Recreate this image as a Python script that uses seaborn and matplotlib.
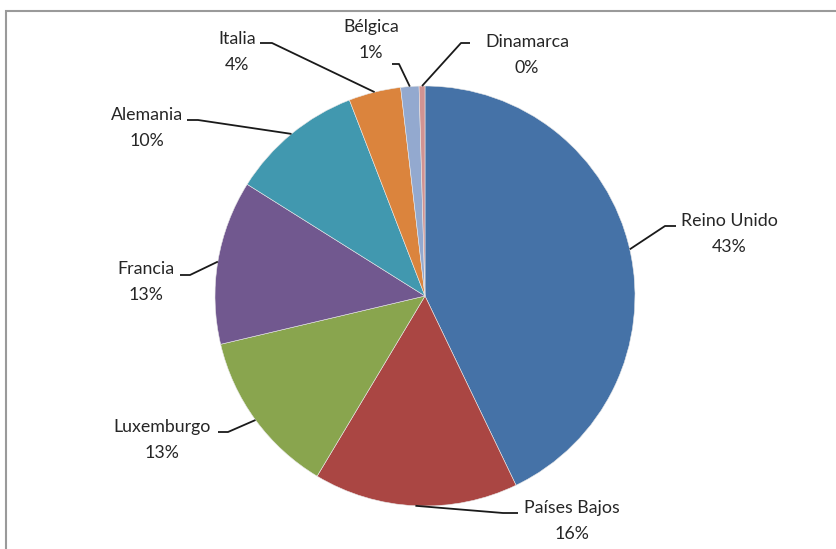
import numpy as np
import matplotlib
matplotlib.use("Agg")
import matplotlib.pyplot as plt
import seaborn as sns
from matplotlib.patches import Rectangle

# data (shares of total, %)
paises = ["Reino Unido", "Países Bajos", "Luxemburgo", "Francia",
          "Alemania", "Italia", "Bélgica", "Dinamarca"]
valores = [42.8, 15.7, 12.7, 12.6, 10.2, 4.0, 1.4, 0.45]
colores = ["#4572A7", "#AA4643", "#89A54E", "#71588F",
           "#4198AF", "#DB843D", "#93A9CF", "#D19392"]

# label layout in pixels (x, y from top): text centre, elbow, line end
txt_pos = [(729, 234), (572, 521), (162, 440), (146, 282),
           (147, 128), (237, 52), (371, 40), (527, 55)]
elbow = [(665, 226), (503, 513), (228, 432), (190, 275),
         (198, 120), (272, 43), (399, 64), (461, 43)]
tail = [(676, 226), (518, 513), (218, 432), (180, 275),
        (187, 120), (260, 43), (392, 64), (470, 43)]

sns.set_style("white")
plt.rcParams['font.family'] = ['Lato', 'DejaVu Sans']

W, H = 837, 549
fig = plt.figure(figsize=(W / 100, H / 100), dpi=100)
ax = fig.add_axes([0, 0, 1, 1])

cx, cy, r = 425, H - 296, 210
wedges, _ = ax.pie(valores, colors=sns.color_palette(colores), startangle=90,
                   counterclock=False, center=(cx, cy), radius=r,
                   wedgeprops=dict(edgecolor="#e8e8e8", linewidth=0.4))

total = sum(valores)
for w, nombre, v, tp, el, tl in zip(wedges, paises, valores, txt_pos, elbow, tail):
    ang = np.deg2rad((w.theta1 + w.theta2) / 2)
    x0, y0 = cx + r * np.cos(ang), cy + r * np.sin(ang)
    ax.plot([x0, el[0], tl[0]], [y0, H - el[1], H - tl[1]],
            color="#1a1a1a", lw=1.3, solid_capstyle="butt")
    ax.text(tp[0], H - tp[1], f"{nombre}\n{v / total * 100:.0f}%",
            ha="center", va="center", multialignment="center",
            fontsize=12.8, linespacing=1.75, color="#262626")

# chart frame (runs past the right and bottom edges)
ax.add_patch(Rectangle((6.5, -20), W + 20, H - 11 + 20, fill=False,
                       edgecolor="#9a9a9a", lw=1.5))

ax.set_xlim(0, W)
ax.set_ylim(0, H)
ax.set_aspect("equal")
ax.axis("off")

plt.savefig("out.png", dpi=100)
